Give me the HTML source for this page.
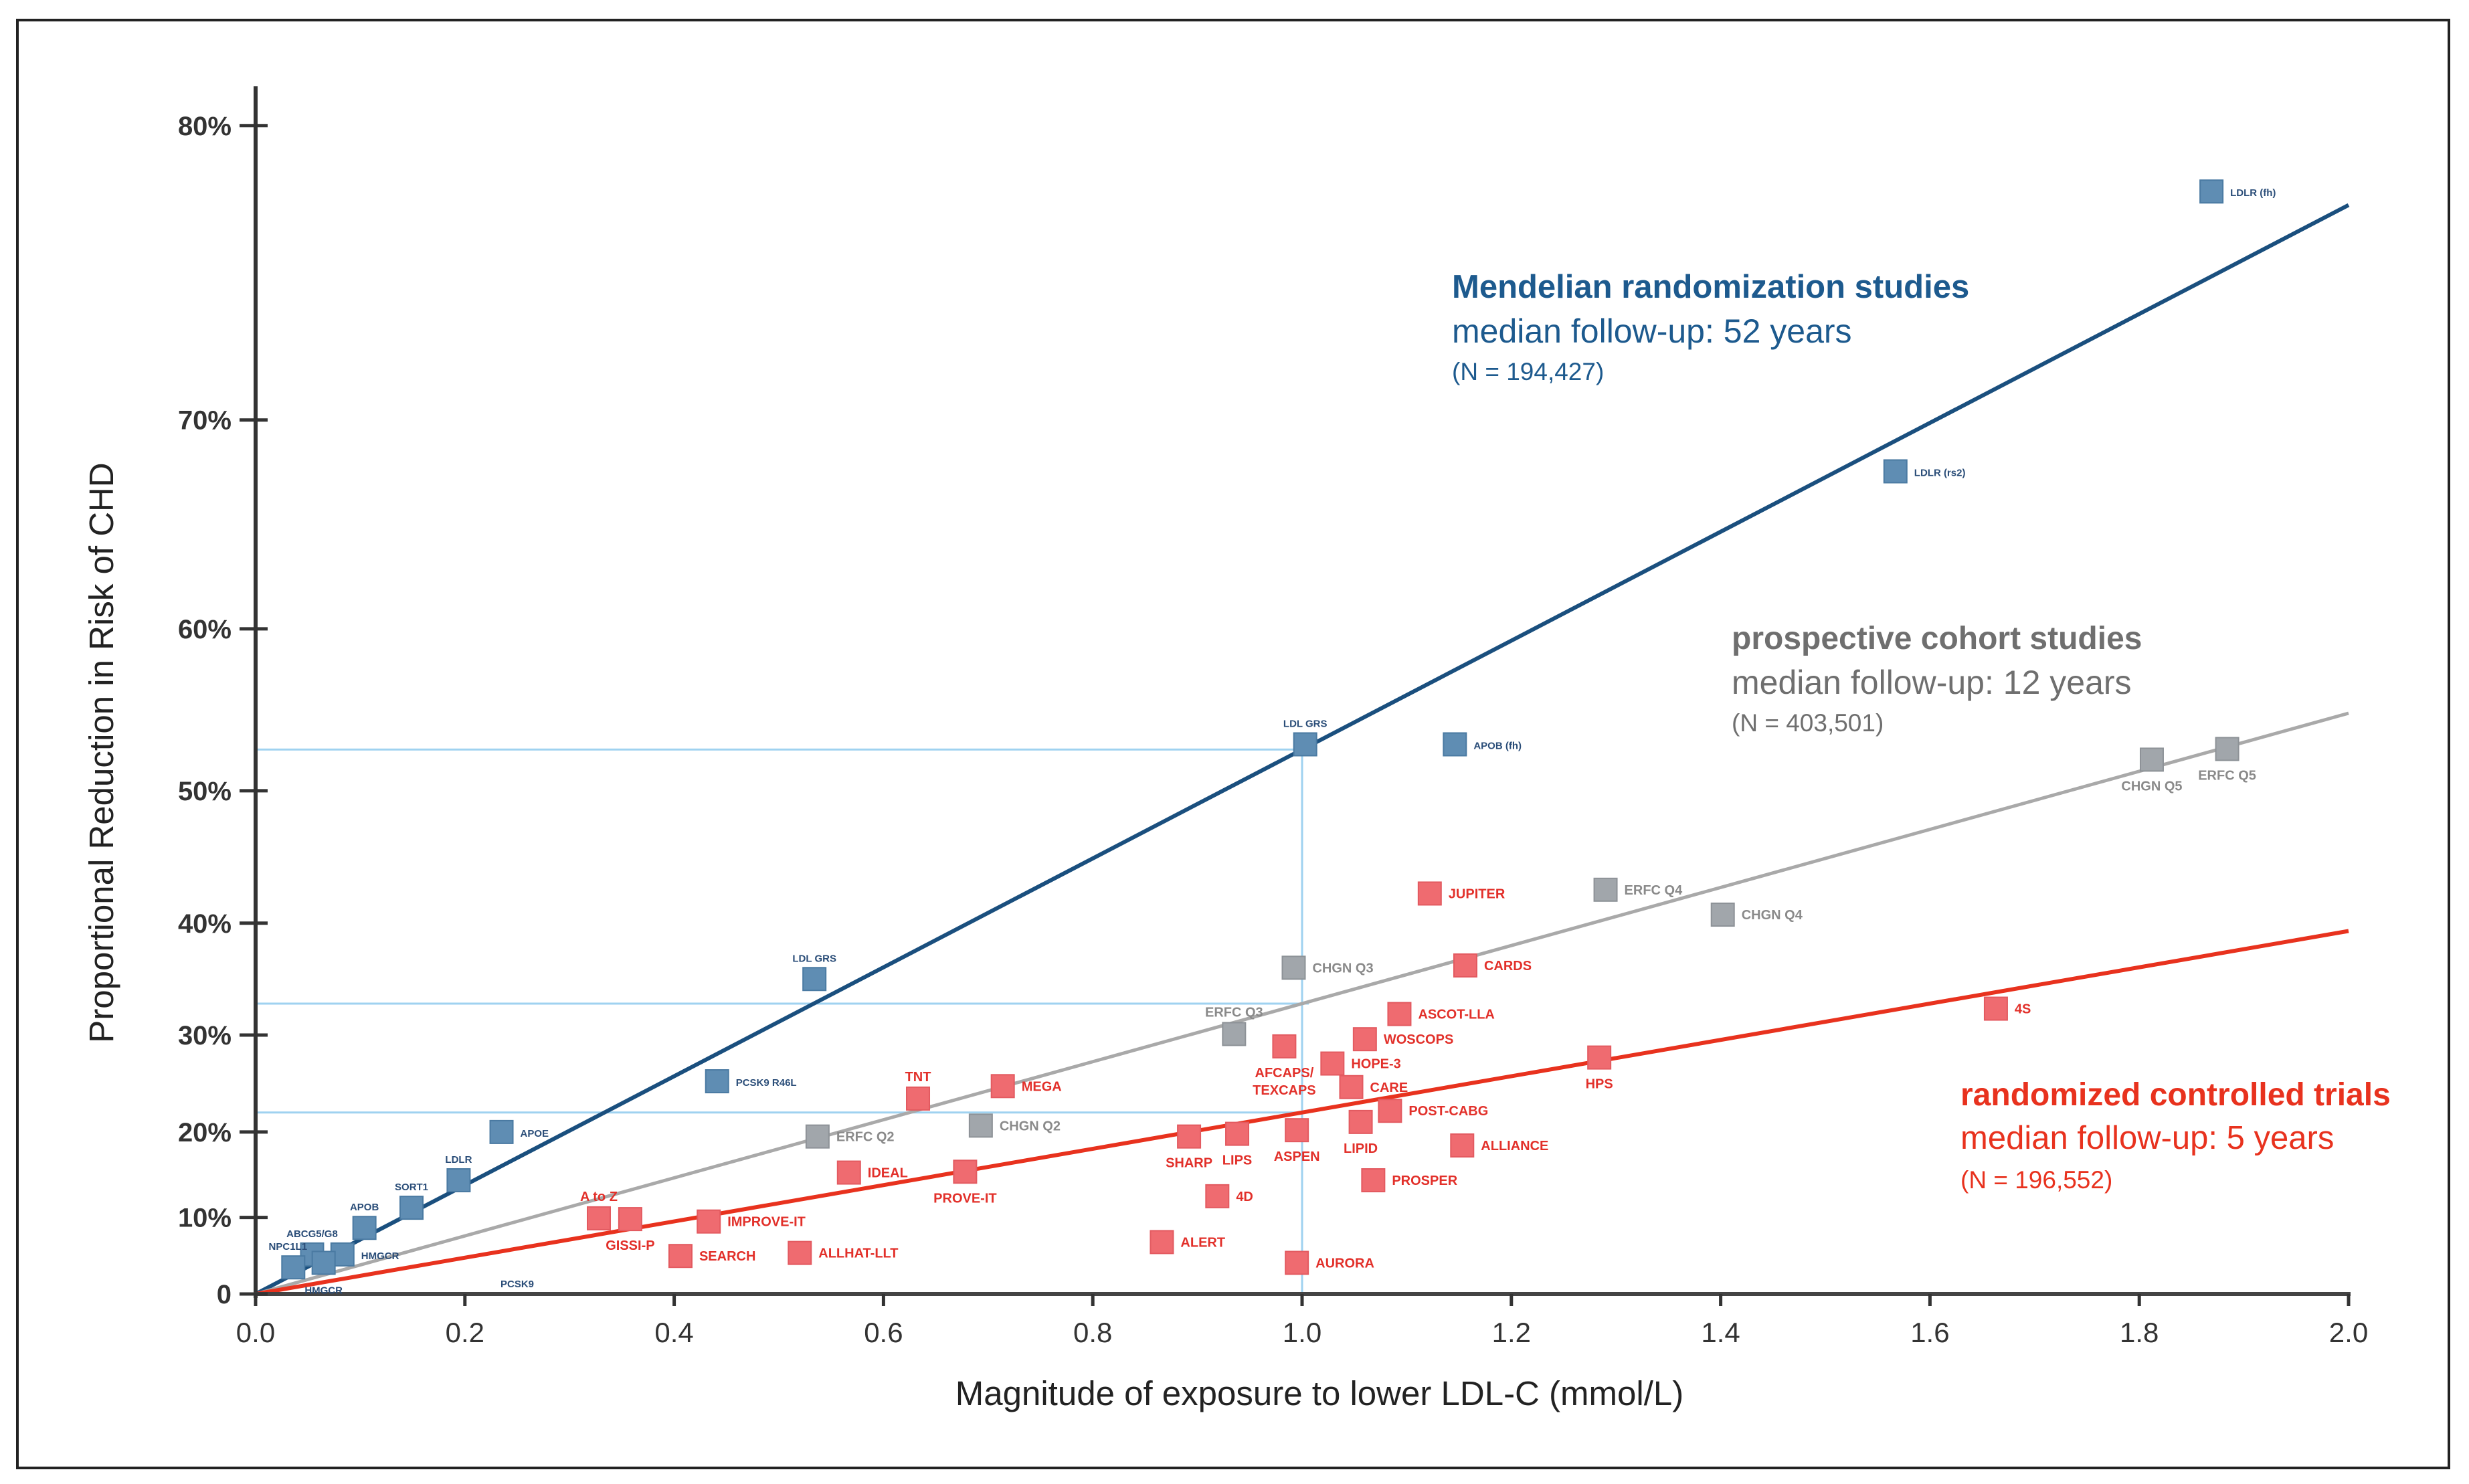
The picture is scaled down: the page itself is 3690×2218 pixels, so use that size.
<!DOCTYPE html>
<html><head><meta charset="utf-8">
<style>
html,body{margin:0;padding:0;background:#fff;}
svg{display:block;font-family:"Liberation Sans",sans-serif;}
</style></head>
<body>
<svg id="chart" width="3690" height="2218" viewBox="0 0 3690 2218">
<rect x="26" y="30" width="3634" height="2164" fill="none" stroke="#222" stroke-width="4"/>
<g id="guides"></g>
<g id="lines"></g>
<g id="axes"></g>
<g id="points"></g>
<text x="169" y="1125" transform="rotate(-90 169 1125)" text-anchor="middle" font-size="51" fill="#222">Proportional Reduction in Risk of CHD</text>
<text x="1972" y="2100" text-anchor="middle" font-size="51" fill="#222">Magnitude of exposure to lower LDL-C (mmol/L)</text>
<g>
<text x="2170" y="445" font-size="49" font-weight="bold" fill="#1d5a8e">Mendelian randomization studies</text>
<text x="2170" y="512" font-size="50" fill="#1d5a8e">median follow-up: 52 years</text>
<text x="2170" y="568" font-size="37" fill="#1d5a8e">(N = 194,427)</text>
</g>
<g>
<text x="2588" y="970" font-size="48" font-weight="bold" fill="#6f6f6f">prospective cohort studies</text>
<text x="2588" y="1037" font-size="50" fill="#6f6f6f">median follow-up: 12 years</text>
<text x="2588" y="1093" font-size="37" fill="#6f6f6f">(N = 403,501)</text>
</g>
<g>
<text x="2930" y="1652" font-size="48" font-weight="bold" fill="#e8321e">randomized controlled trials</text>
<text x="2930" y="1717" font-size="49" fill="#e8321e">median follow-up: 5 years</text>
<text x="2930" y="1776" font-size="37" fill="#e8321e">(N = 196,552)</text>
</g>
</svg>
<script>
const xTicks = [0.0, 0.2, 0.4, 0.6, 0.8, 1.0, 1.2, 1.4, 1.6, 1.8, 2.0];
const xTickLabels = ["0.0","0.2","0.4","0.6","0.8","1.0","1.2","1.4","1.6","1.8","2.0"];
const yTicks = [0, 10, 20, 30, 40, 50, 60, 70, 80];
const yTickLabels = ["0","10%","20%","30%","40%","50%","60%","70%","80%"];
// regression slopes (log-risk per mmol/L)
const lineNames = ["mendelian","cohort","rct"];
const lineSlopes = [0.75, 0.40, 0.25];

const mrNames = ["LDLR (fh)","LDLR (rs2)","LDL GRS","APOB (fh)","LDL GRS","PCSK9 R46L","APOE","LDLR","SORT1","APOB","ABCG5/G8","NPC1L1","HMGCR","HMGCR"];
const mrX = [1.869,1.567,1.003,1.146,0.534,0.441,0.235,0.194,0.149,0.104,0.054,0.036,0.083,0.065];
const mrY = [78.1,67.8,53.1,53.1,35.2,25.4,20.0,14.5,11.2,8.7,5.3,3.6,5.3,4.2];
const mrPos = ["r","r","a","r","a","r","r","a","a","a","a","al","r","b"];

const pcNames = ["ERFC Q5","CHGN Q5","ERFC Q4","CHGN Q4","CHGN Q3","ERFC Q3","ERFC Q2","CHGN Q2"];
const pcX = [1.884,1.812,1.290,1.402,0.992,0.935,0.537,0.693];
const pcY = [52.8,52.1,42.7,40.7,36.2,30.1,19.5,20.7];
const pcPos = ["b","b","r","r","r","a","r","r"];

const rctNames = ["JUPITER","CARDS","ASCOT-LLA","WOSCOPS","AFCAPS/|TEXCAPS","HOPE-3","CARE","POST-CABG","LIPID","ASPEN","LIPS","SHARP","ALLIANCE","PROSPER","4D","ALERT","AURORA","HPS","4S","TNT","MEGA","IDEAL","PROVE-IT","A to Z","GISSI-P","IMPROVE-IT","SEARCH","ALLHAT-LLT"];
const rctX = [1.122,1.156,1.093,1.060,0.983,1.029,1.047,1.084,1.056,0.995,0.938,0.892,1.153,1.068,0.919,0.866,0.995,1.284,1.663,0.633,0.714,0.567,0.678,0.328,0.358,0.433,0.406,0.520];
const rctY = [42.4,36.4,32.0,29.6,28.9,27.2,24.8,22.3,21.1,20.2,19.8,19.5,18.5,14.5,12.6,6.9,4.2,27.8,32.5,23.6,24.9,15.4,15.5,9.9,9.8,9.5,5.1,5.5];
const rctPos = ["r","r","r","r","b","r","r","r","b","b","b","b","r","r","r","r","r","b","r","a","r","r","b","a","b","r","r","r"];

const X0 = 382, XPU = 1564, Y0 = 1934, YK = 1085;
function sx(v){ return X0 + v*XPU; }
function sy(p){ return Y0 + YK*Math.log(1 - p/100); }
function syLog(t){ return Y0 - YK*t; }
const NS = "http://www.w3.org/2000/svg";
function mk(tag, parent, attrs){ const e=document.createElementNS(NS,tag); for(const k in attrs) e.setAttribute(k,attrs[k]); parent.appendChild(e); return e; }

const guides = document.getElementById('guides');
lineSlopes.forEach((s,i)=>{
  const l = mk('line', guides, {x1:X0, x2:sx(1.0)+10, y1:syLog(s), y2:syLog(s), stroke:'#9fd2f0', 'stroke-width':3});
  
  
});
const vg = mk('line', guides, {x1:sx(1.0), x2:sx(1.0), y1:syLog(lineSlopes[0])-10, y2:Y0, stroke:'#9fd2f0', 'stroke-width':3});



const lines = document.getElementById('lines');
const lineColors = ['#1a4f7e','#a9a9a9','#e8321e'];
const lineW = [6,5,6];
lineSlopes.forEach((s,i)=>{
  const l = mk('line', lines, {x1:sx(0), y1:Y0, x2:sx(2.0), y2:syLog(s*2.0), stroke:lineColors[i], 'stroke-width':lineW[i]});
  
  
});

const axes = document.getElementById('axes');
const ya = mk('line', axes, {x1:X0, x2:X0, y1:129, y2:Y0+6, stroke:'#333', 'stroke-width':6});
 
const xa = mk('line', axes, {x1:X0-3, x2:sx(2.0)+3, y1:Y0, y2:Y0, stroke:'#444', 'stroke-width':6});
 
yTicks.forEach((v,i)=>{
  const y = sy(v);
  const t = mk('line', axes, {x1:X0-24, x2:X0+18, y1:y, y2:y, stroke:'#333', 'stroke-width':5});
   
  const tx = mk('text', axes, {x:346, y:y+14, 'text-anchor':'end', 'font-size':40, 'font-weight':'bold', fill:'#333'});
  tx.textContent = yTickLabels[i];
   
});
xTicks.forEach((v,i)=>{
  const x = sx(v);
  const t = mk('line', axes, {x1:x, x2:x, y1:Y0, y2:Y0+18, stroke:'#333', 'stroke-width':5});
   
  const tx = mk('text', axes, {x:x, y:2006, 'text-anchor':'middle', 'font-size':42, fill:'#333'});
  tx.textContent = xTickLabels[i];
   
});

const pts = document.getElementById('points');
function drawSeries(names, xs, ys, pos, fill, stroke, tcol, fs, series){
  names.forEach((n,i)=>{
    const cx = sx(xs[i]), cy = sy(ys[i]);
    const r = mk('rect', pts, {x:cx-17, y:cy-17, width:34, height:34, fill:fill, stroke:stroke, 'stroke-width':2});
    
    
    const parts = n.split('|');
    let x, y, anchor;
    const p = pos[i];
    if(p==='r'){ x=cx+28; y=cy+7; anchor='start'; }
    else if(p==='a'){ x=cx; y=cy-26; anchor='middle'; }
    else if(p==='al'){ x=cx-8; y=cy-26; anchor='middle'; }
    else { x=cx; y=cy+46; anchor='middle'; }
    parts.forEach((s,j)=>{
      const t = mk('text', pts, {x:x, y:y+j*26, 'text-anchor':anchor, 'font-size':fs, 'font-weight':'bold', fill:tcol});
      t.textContent = s;
      
      
    });
  });
}
drawSeries(pcNames, pcX, pcY, pcPos, '#a1a6ab', '#8d9297', '#8a8a8a', 20, 'cohort');
drawSeries(mrNames, mrX, mrY, mrPos, '#5f8db3', '#4a7aa2', '#2a4d78', 15, 'mendelian');
drawSeries(rctNames, rctX, rctY, rctPos, '#ef6b70', '#e35a60', '#e2302a', 20, 'rct');
const pl = mk('text', pts, {x:sx(0.25), y:sy(0.9), 'text-anchor':'middle', 'font-size':15, 'font-weight':'bold', fill:'#2a4d78'});
pl.textContent = 'PCSK9';


</script>
</body></html>
